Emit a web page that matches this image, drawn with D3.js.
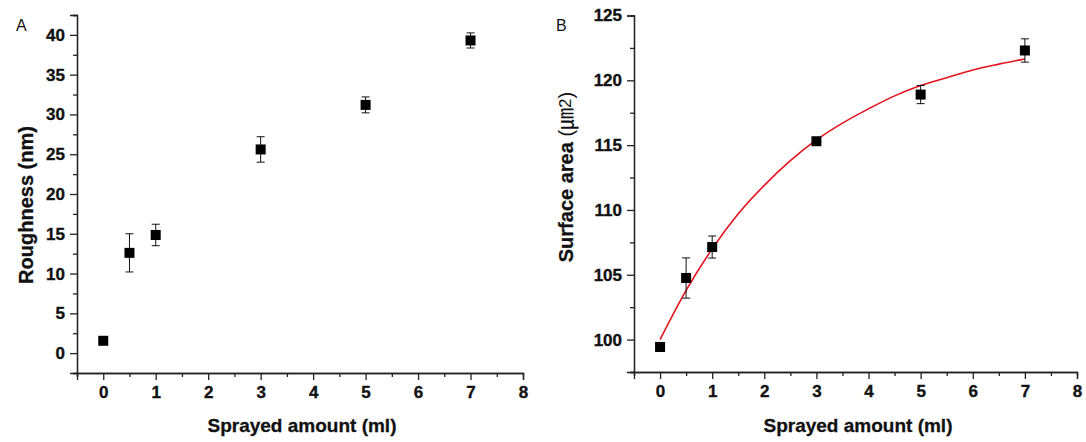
<!DOCTYPE html>
<html>
<head>
<meta charset="utf-8">
<script src="https://cdn.jsdelivr.net/npm/d3@7"></script>
<style>
  body { margin: 0; background: #fff; }
  svg { display: block; }
</style>
</head>
<body>
<div id="chart"></div>
<script>
// data
const sprayed = [0, 0.5, 1, 3, 5, 7]
const roughness = [1.55, 12.6, 14.85, 25.6, 31.2, 39.3]
const roughnessErr = [0, 2.4, 1.35, 1.6, 1.0, 0.95]
const area = [99.43, 104.75, 107.14, 115.3, 118.9, 122.3]
const areaErr = [0, 1.55, 0.85, 0.15, 0.7, 0.9]

// red fit line
const fitX = [0, 0.5, 1, 1.5, 2, 2.5, 3, 3.5, 4, 4.5, 5, 5.5, 6, 6.5, 7]
const fitY = [100.0, 103.8, 107.0, 109.7, 111.9, 113.8, 115.4, 116.7, 117.8, 118.8, 119.6, 120.2, 120.8, 121.25, 121.65]

const xTicks = [0, 1, 2, 3, 4, 5, 6, 7, 8]
const yTicksA = [0, 5, 10, 15, 20, 25, 30, 35, 40]
const yTicksB = [100, 105, 110, 115, 120, 125]

const width = 1086
const height = 442
const font = 'Arial, "Liberation Sans", sans-serif'

const svg = d3
  .select('#chart')
  .append('svg')
  .attr('width', width)
  .attr('height', height)

function styleAxis(sel) {
  sel.attr('font-family', null).attr('font-size', null)
  sel.select('.domain').attr('stroke', '#222').attr('stroke-width', 1.3)
  sel.selectAll('.tick line').attr('stroke', '#222').attr('stroke-width', 1.3)
  sel.selectAll('.tick text')
    .style('font-family', font)
    .style('font-weight', 'bold')
    .style('font-size', '17px')
    .attr('fill', '#111')
    .attr('stroke', '#111')
    .attr('stroke-width', 0.35)
}

function panel(opts) {
  const x = d3.scaleLinear().domain([-0.5, 8]).range(opts.xRange)
  const y = d3.scaleLinear().domain(opts.yDomain).range(opts.yRange)
  const g = svg.append('g')

  // minor ticks first
  const xMinor = d3.range(-0.5, 8.01, 0.5).filter((d) => !xTicks.includes(d))
  const yMinor = d3.range(opts.yDomain[0], opts.yDomain[1] + 0.01, 2.5)
    .filter((d) => !opts.yTicks.includes(d))

  g.append('g')
    .attr('transform', `translate(0,${opts.yRange[0]})`)
    .call(d3.axisBottom(x).tickValues(xMinor).tickSize(4).tickFormat(''))
    .call(styleAxis)
  g.append('g')
    .attr('transform', `translate(${opts.xRange[0]},0)`)
    .call(d3.axisLeft(y).tickValues(yMinor).tickSize(4).tickFormat(''))
    .call(styleAxis)

  g.append('g')
    .attr('transform', `translate(0,${opts.yRange[0]})`)
    .call(d3.axisBottom(x).tickValues(xTicks).tickSize(7).tickPadding(6).tickFormat(d3.format('d')))
    .call(styleAxis)
  g.append('g')
    .attr('transform', `translate(${opts.xRange[0]},0)`)
    .call(d3.axisLeft(y).tickValues(opts.yTicks).tickSize(7).tickPadding(5).tickFormat(d3.format('d')))
    .call(styleAxis)

  // fit curve
  if (opts.fit) {
    g.append('path')
      .datum(opts.fit)
      .attr('fill', 'none')
      .attr('stroke', '#e3141e')
      .attr('stroke-width', 1.6)
      .attr('d', d3.line().x((d) => x(d[0])).y((d) => y(d[1])).curve(d3.curveMonotoneX))
  }

  const pts = sprayed.map((s, i) => ({ x: s, y: opts.values[i], e: opts.errors[i] }))

  // error bars
  const eb = g.selectAll('g.err').data(pts.filter((d) => d.e > 0)).enter().append('g')
    .attr('stroke', '#111').attr('stroke-width', 1)
  eb.append('line')
    .attr('x1', (d) => x(d.x)).attr('x2', (d) => x(d.x))
    .attr('y1', (d) => y(d.y - d.e)).attr('y2', (d) => y(d.y + d.e))
  eb.append('line')
    .attr('x1', (d) => x(d.x) - 4).attr('x2', (d) => x(d.x) + 4)
    .attr('y1', (d) => y(d.y + d.e)).attr('y2', (d) => y(d.y + d.e))
  eb.append('line')
    .attr('x1', (d) => x(d.x) - 4).attr('x2', (d) => x(d.x) + 4)
    .attr('y1', (d) => y(d.y - d.e)).attr('y2', (d) => y(d.y - d.e))

  g.selectAll('rect.pt').data(pts).enter().append('rect')
    .attr('x', (d) => x(d.x) - 5)
    .attr('y', (d) => y(d.y) - 5)
    .attr('width', 10)
    .attr('height', 10)
    .attr('fill', '#000')

  // panel letter
  g.append('text')
    .attr('x', opts.letterX).attr('y', 31)
    .style('font-family', font)
    .style('font-size', '16px')
    .attr('fill', '#111')
    .text(opts.letter)

  // x title
  g.append('text')
    .attr('x', opts.xTitleX).attr('y', 432)
    .attr('text-anchor', 'middle')
    .style('font-family', font)
    .style('font-weight', 'bold')
    .style('font-size', '19px')
    .attr('fill', '#111')
    .attr('stroke', '#111')
    .attr('stroke-width', 0.3)
    .text('Sprayed amount (ml)')

  return g
}

const gA = panel({
  xRange: [77, 523],
  yDomain: [-2.5, 42.5],
  yRange: [373, 15],
  yTicks: yTicksA,
  values: roughness,
  errors: roughnessErr,
  letter: 'A',
  letterX: 16,
  xTitleX: 302
})

gA.append('text')
  .attr('transform', 'translate(33,205) rotate(-90)')
  .attr('text-anchor', 'middle')
  .style('font-family', font)
  .style('font-weight', 'bold')
  .style('font-size', '20px')
  .attr('fill', '#111')
  .attr('stroke', '#111')
  .attr('stroke-width', 0.3)
  .text('Roughness (nm)')

const gB = panel({
  xRange: [634, 1077],
  yDomain: [97.5, 125],
  yRange: [372, 15.5],
  yTicks: yTicksB,
  values: area,
  errors: areaErr,
  letter: 'B',
  letterX: 556,
  xTitleX: 858,
  fit: fitX.map((d, i) => [d, fitY[i]])
})

const yt = gB.append('text')
  .attr('transform', 'translate(573,177) rotate(-90)')
  .attr('text-anchor', 'middle')
  .style('font-family', font)
  .style('font-size', '20px')
  .attr('fill', '#111')
yt.append('tspan').style('font-weight', 'bold')
  .attr('stroke', '#111').attr('stroke-width', 0.3)
  .text('Surface area ')
yt.append('tspan').style('font-size', '20px').text('(')
yt.append('tspan').style('font-size', '22px').style('font-family', '"Noto Sans CJK KR", sans-serif').text('㎛')
yt.append('tspan').style('font-size', '17px').attr('dy', -2).text('2')
yt.append('tspan').style('font-size', '20px').attr('dy', 2).text(')')
</script>
</body>
</html>
